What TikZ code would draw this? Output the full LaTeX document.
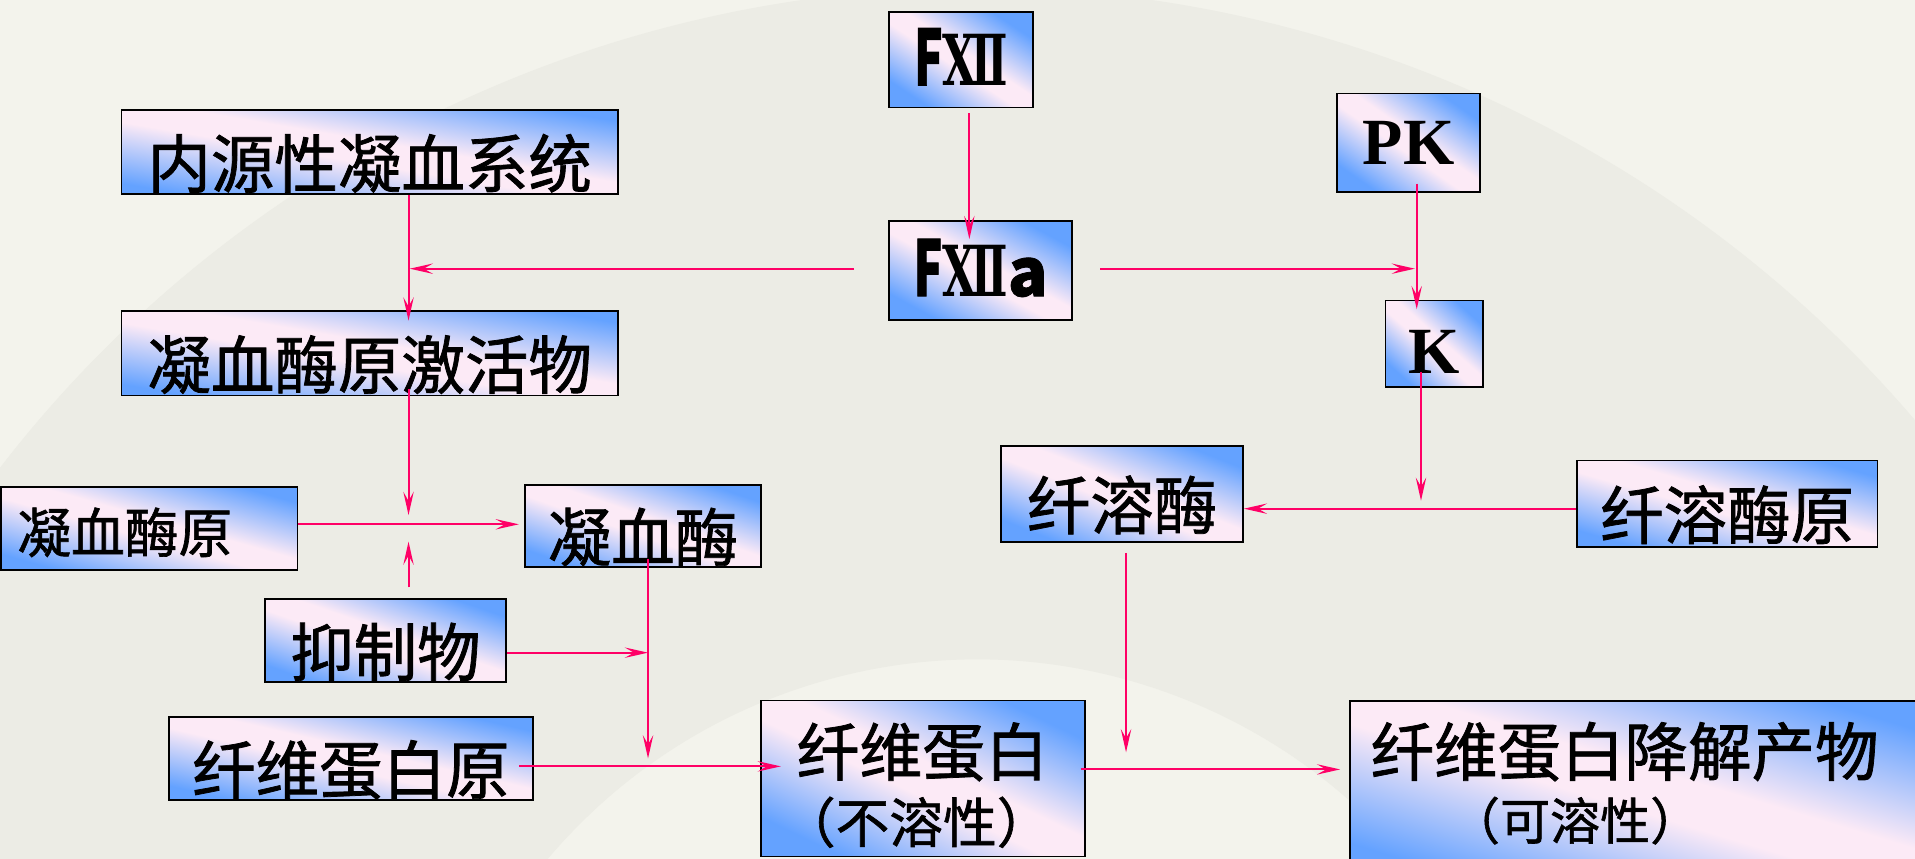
\documentclass[tikz,border=0pt]{standalone}
\usepackage{fontspec}
\setmainfont{Liberation Serif}
\newfontfamily\cjk{Noto Sans CJK SC}[FakeBold=1.2]
\newfontfamily\dvs{DejaVu Serif}
\usetikzlibrary{arrows.meta,calc}
\definecolor{bxblue}{RGB}{100,162,255}
\definecolor{bxpink}{RGB}{252,234,246}
\definecolor{arrcol}{RGB}{255,0,102}
\definecolor{bgcol}{RGB}{243,243,236}
\definecolor{fancol}{RGB}{236,236,229}
\pgfdeclareverticalshading{boxshade}{100bp}{color(0bp)=(bxblue); color(25bp)=(bxblue); color(46bp)=(bxpink); color(54bp)=(bxpink); color(75bp)=(bxblue); color(100bp)=(bxblue)}
\newcommand{\fxtxt}{{\bfseries\fontsize{63}{66}\selectfont\scalebox{0.62}[1]{F}}{\dvs\bfseries\fontsize{57.6}{60}\selectfont\scalebox{0.62}[1]{Ⅻ}}}
\begin{document}
\begin{tikzpicture}[x=1pt,y=-1pt,
  bx/.style={draw=black, line width=1.4pt, shading=boxshade, shading angle=#1, inner sep=0pt,
    font=\cjk\fontsize{52}{60}\selectfont, text height=58pt, text depth=0pt},
  bx/.default=-20,
  lat/.style={font=\bfseries\fontsize{54}{60}\selectfont},
  lbl/.style={inner sep=0pt, anchor=base west},
  arr/.style={draw=arrcol, line width=1.6pt, -{Stealth[length=19pt,width=8.5pt,inset=7.5pt]}}]
\useasboundingbox (0,0) rectangle (1568,703);
\clip (0,0) rectangle (1568,703);
\fill[bgcol] (0,0) rectangle (1568,703);
\fill[fancol] ($(800,1000)+(-18:460)$) arc[start angle=-18,end angle=-162,radius=460]
  -- ($(800,1000)+(-162:1010)$) arc[start angle=-162,end angle=-18,radius=1010] -- cycle;

% boxes
\node[bx=-33.5, minimum width=118pt, minimum height=78pt, text height=42pt] (fxii) at (787,49) {\fxtxt};
\node[bx=-28.4, minimum width=150pt, minimum height=81pt, text height=42pt] (fxiia) at (803,221.5)
  {\fxtxt{\bfseries\fontsize{54}{60}\selectfont a}};
\node[bx=-34.7, lat, minimum width=117pt, minimum height=81pt, text height=35.7pt] (pk) at (1153.5,117) {PK};
\node[bx=-41.6, lat, minimum width=80pt, minimum height=71pt, text height=48.7pt] (k) at (1174.5,281.5) {K};
\node[bx=-9.6, minimum width=406.6pt, minimum height=69pt] (nyx) at (302.7,124.6) {内源性凝血系统};
\node[bx=-9.7, minimum width=406.6pt, minimum height=69.3pt] (jhw) at (302.7,289.3) {凝血酶原激活物};
\node[bx=-15.7, minimum width=242.8pt, minimum height=68.2pt, font=\cjk\fontsize{44}{50}\selectfont, text height=40pt] (nxmy) at (122.2,432.6) {\hspace*{-40pt}凝血酶原};
\node[bx=-19.1, minimum width=193pt, minimum height=67pt] (nxm) at (526.5,430.5) {凝血酶};
\node[bx=-19.1, minimum width=197.3pt, minimum height=68.2pt] (yzw) at (315.6,524.6) {抑制物};
\node[bx=-12.9, minimum width=298pt, minimum height=68.2pt] (xwdby) at (287.3,620.9) {纤维蛋白原};
\node[bx=-21.6, minimum width=198pt, minimum height=78.5pt] (xrm) at (918.8,404.3) {纤溶酶};
\node[bx=-16.0, minimum width=246pt, minimum height=70.6pt] (xrmy) at (1414.2,412.3) {纤溶酶原};
\node[bx=-25.7, minimum width=265.5pt, minimum height=127.7pt] (xwdb) at (755.8,637.5) {};
\node[bx=-16.8, minimum width=484.5pt, minimum height=146pt] (jjcw) at (1347.75,647) {};
\node[lbl, font=\cjk\fontsize{51.5}{60}\selectfont] (xwdbA) at (652,635) {纤维蛋白};
\node[lbl, font=\cjk\fontsize{44}{50}\selectfont] (xwdbB) at (640,690) {（不溶性）};
\node[lbl, font=\cjk\fontsize{52}{60}\selectfont] (jjcwA) at (1122,635) {纤维蛋白降解产物};
\node[lbl, font=\cjk\fontsize{41}{50}\selectfont] (jjcwB) at (1187,687.5) {（可溶性）};

% line helpers
\coordinate (cA) at (793.7,0);
\coordinate (cL) at (334.5,0);
\coordinate (cR) at (1160,0);
\coordinate (cR2) at (1163.5,0);
\coordinate (cM) at (922,0);
\coordinate (cN) at (530.6,0);
\coordinate (hF) at (0,220);
\coordinate (hP) at (0,416.5);
\coordinate (hQ) at (0,429.3);
\coordinate (hI) at (0,534.4);
\coordinate (hG) at (0,627.5);
\coordinate (hX) at (0,630);

% connectors
\draw[arr, shorten <=4pt, shorten >=-15.5pt] (fxii.south -| cA) -- (fxiia.north -| cA);
\draw[arr, shorten <=28pt, shorten >=1pt] (fxiia.west |- hF) -- (cL |- hF);
\draw[arr, shorten >=-8.5pt] (nyx.south -| cL) -- (jhw.north -| cL);
\draw[arr, shorten <=22pt, shorten >=1.5pt] (fxiia.east |- hF) -- (cR |- hF);
\draw[arr, shorten <=-7.9pt, shorten >=-7.8pt] (pk.south -| cR) -- (k.north -| cR);
\draw[arr, shorten <=-13.5pt, shorten >=6.5pt] (k.south -| cR2) -- (cR2 |- hP);
\draw[arr] (xrmy.west |- hP) -- (xrm.east |- hP);
\draw[arr, shorten <=8.5pt, shorten >=14pt] (xrm.south -| cM) -- (cM |- hX);
\draw[arr, shorten <=-4.5pt, shorten >=7.5pt] (xwdb.east |- hX) -- (jjcw.west |- hX);
\draw[arr, shorten <=-6.5pt, shorten >=7.6pt] (jhw.south -| cL) -- (cL |- hQ);
\draw[arr, shorten >=4.5pt] (nxmy.east |- hQ) -- (nxm.west |- hQ);
\draw[arr, shorten <=8.8pt, shorten >=14.2pt] (yzw.north -| cL) -- (cL |- hQ);
\draw[arr] (yzw.east |- hI) -- (cN |- hI);
\draw[arr, shorten <=-7pt, shorten >=6.5pt] (nxm.south -| cN) -- (cN |- hG);
\draw[arr, shorten <=-12pt, shorten >=-17pt] (xwdby.east |- hG) -- (xwdb.west |- hG);
\end{tikzpicture}
\end{document}
